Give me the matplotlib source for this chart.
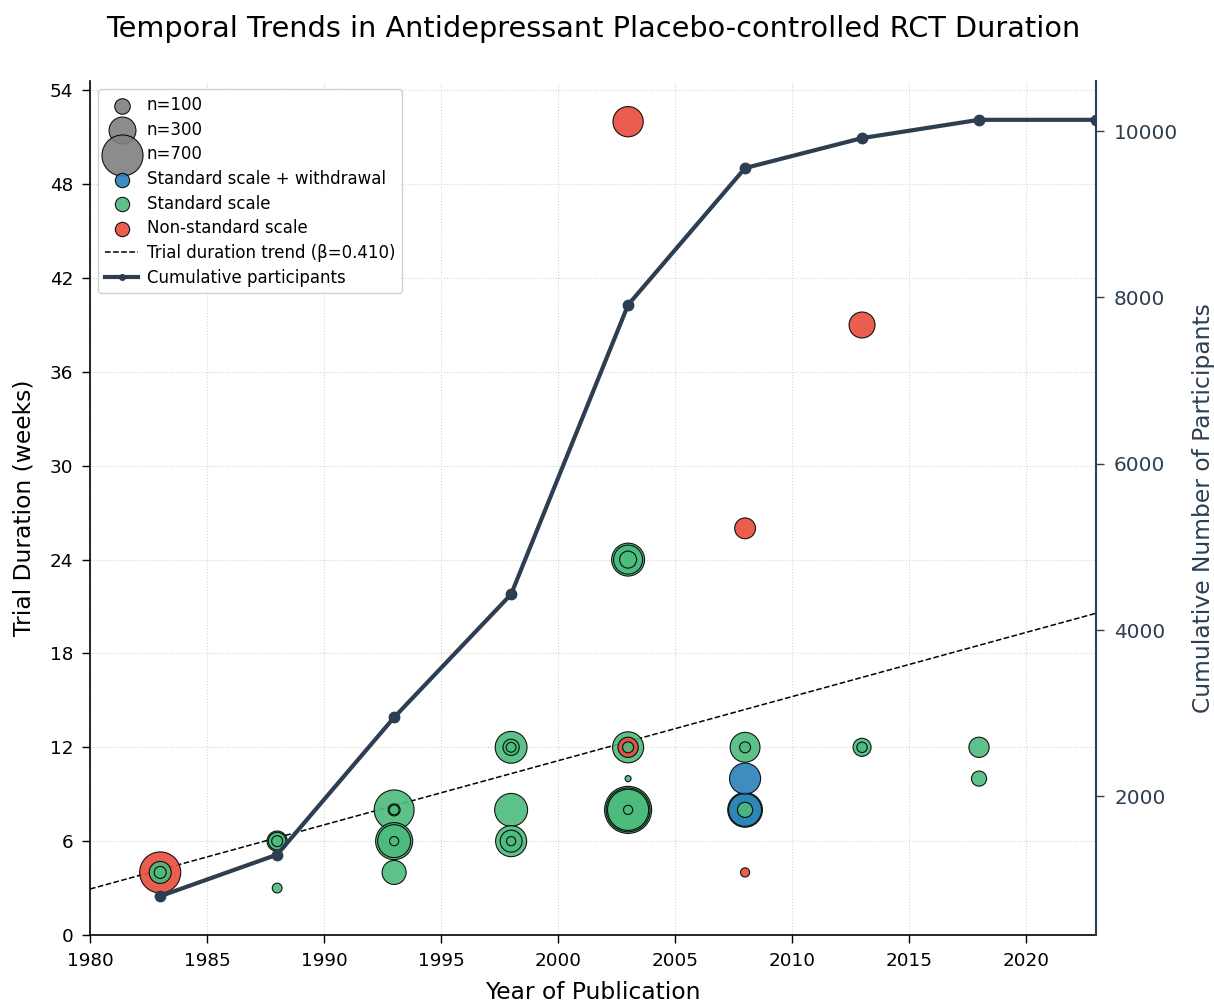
import matplotlib
matplotlib.use("Agg")
import matplotlib.pyplot as plt
import numpy as np
from matplotlib.lines import Line2D

# ---- data ----
pub_year = [1983, 1983, 1983,
            1988, 1988, 1988, 1988,
            1993, 1993, 1993, 1993, 1993, 1993, 1993,
            1998, 1998, 1998, 1998, 1998, 1998, 1998,
            2003, 2003, 2003, 2003, 2003, 2003, 2003, 2003, 2003, 2003, 2003, 2003,
            2008, 2008, 2008, 2008, 2008, 2008, 2008, 2008,
            2013, 2013, 2013,
            2018, 2018]
duration_wk = [4, 4, 4,
               6, 6, 6, 3,
               8, 8, 8, 6, 6, 6, 4,
               12, 12, 12, 8, 6, 6, 6,
               52, 24, 24, 24, 12, 12, 12, 10, 8, 8, 8, 8,
               26, 12, 12, 10, 8, 8, 8, 4,
               39, 12, 12,
               12, 10]
n_participants = [700, 200, 60,
                  170, 130, 50, 40,
                  660, 60, 40, 570, 450, 35, 240,
                  420, 110, 40, 450, 400, 200, 35,
                  380, 450, 350, 120, 400, 170, 50, 15, 920, 800, 700, 35,
                  180, 370, 50, 400, 500, 450, 95, 35,
                  280, 135, 45,
                  170, 95]
scale_type = ["nonstd", "std", "std",
              "std", "std", "std", "std",
              "std", "std", "std", "std", "std", "std", "std",
              "std", "std", "std", "std", "std", "std", "std",
              "nonstd", "std", "std", "std", "std", "nonstd", "std", "std", "std", "std", "std", "std",
              "nonstd", "std", "std", "withdraw", "std", "withdraw", "std", "nonstd",
              "nonstd", "std", "std",
              "std", "std"]

cum_years = [1983, 1988, 1993, 1998, 2003, 2008, 2013, 2018, 2023]
cum_participants = [800, 1300, 2950, 4430, 7910, 9555, 9915, 10135, 10135]

trend_years = [1980, 2023]
trend_weeks = [2.94, 20.57]
trend_beta = 0.410

size_legend_n = [100, 300, 700]

category_labels = {"withdraw": "Standard scale + withdrawal",
                   "std": "Standard scale",
                   "nonstd": "Non-standard scale"}
category_colors = {"withdraw": "#2980b9", "std": "#4cbb7c", "nonstd": "#e74c3c"}

SIZE_K = 1.25
ALPHA = 0.9
DARK = "#2c3e50"

fig = plt.figure(figsize=(12.14, 10.02), dpi=100)
ax = fig.add_axes([90 / 1214, 1 - 935 / 1002, (1096 - 90) / 1214, (935 - 81) / 1002])

# bubbles, larger ones first so small ones stay visible
order = np.argsort(-np.array(n_participants), kind="stable")
xs = np.array(pub_year)[order]
ys = np.array(duration_wk)[order]
ss = np.array(n_participants)[order] * SIZE_K
cs = [category_colors[scale_type[i]] for i in order]
ax.scatter(xs, ys, s=ss, c=cs, alpha=ALPHA, edgecolors="black", linewidths=0.8, zorder=3)

# trend line
ax.plot(trend_years, trend_weeks, color="black", linestyle="--", linewidth=1.1, zorder=2)

ax.set_xlim(1980, 2023)
ax.set_ylim(0, 54.6)
ax.set_yticks(np.arange(0, 55, 6))
ax.set_xticks(np.arange(1980, 2021, 5))
ax.tick_params(axis="both", labelsize=13.2, length=6, width=1, pad=6)
ax.grid(True, linestyle=":", color="#d4d4d4", linewidth=0.8, zorder=0)
ax.set_axisbelow(True)
ax.set_xlabel("Year of Publication", fontsize=16.8, labelpad=8)
ax.set_ylabel("Trial Duration (weeks)", fontsize=16.8, labelpad=10)
ax.spines["top"].set_visible(False)
ax.spines["right"].set_visible(False)
ax.spines["left"].set_linewidth(1.2)
ax.spines["bottom"].set_linewidth(1.2)
ax.set_title("Temporal Trends in Antidepressant Placebo-controlled RCT Duration",
             fontsize=20.7, pad=32)

# cumulative participants on twin axis
ax2 = ax.twinx()
ax2.plot(cum_years, cum_participants, color=DARK, linewidth=3, marker="o",
         markersize=7.5, zorder=4, clip_on=True)
ax2.spines["top"].set_visible(False)
ax2.spines["left"].set_visible(False)
ax2.spines["bottom"].set_visible(False)
ax2.spines["right"].set_color(DARK)
ax2.spines["right"].set_linewidth(1.5)
ax2.tick_params(axis="y", colors=DARK, labelsize=14.4, length=6, width=1, pad=7)
ax2.set_ylabel("Cumulative Number of Participants", fontsize=16.8, color=DARK, labelpad=10)
ax2.set_xlim(1980, 2023)

# legend
handles = []
labels = []
for n in size_legend_n:
    handles.append(ax.scatter([], [], s=n * SIZE_K, c="gray", alpha=0.9, edgecolors="black", linewidths=0.8))
    labels.append(f"n={n}")
for key in ["withdraw", "std", "nonstd"]:
    handles.append(ax.scatter([], [], s=100 * SIZE_K * 0.85, c=category_colors[key], alpha=ALPHA,
                              edgecolors="black", linewidths=0.8))
    labels.append(category_labels[key])
handles.append(Line2D([], [], color="black", linestyle="--", linewidth=1.1))
labels.append(f"Trial duration trend (\u03b2={trend_beta:.3f})")
handles.append(Line2D([], [], color=DARK, linewidth=3, marker="o", markersize=4))
labels.append("Cumulative participants")
leg = ax2.legend(handles, labels, loc="upper left", fontsize=12, frameon=True,
                 framealpha=0.9, borderpad=0.4, labelspacing=0.4, handletextpad=0.5,
                 bbox_to_anchor=(0.0, 1.0))

fig.savefig("out.png", dpi=100)
